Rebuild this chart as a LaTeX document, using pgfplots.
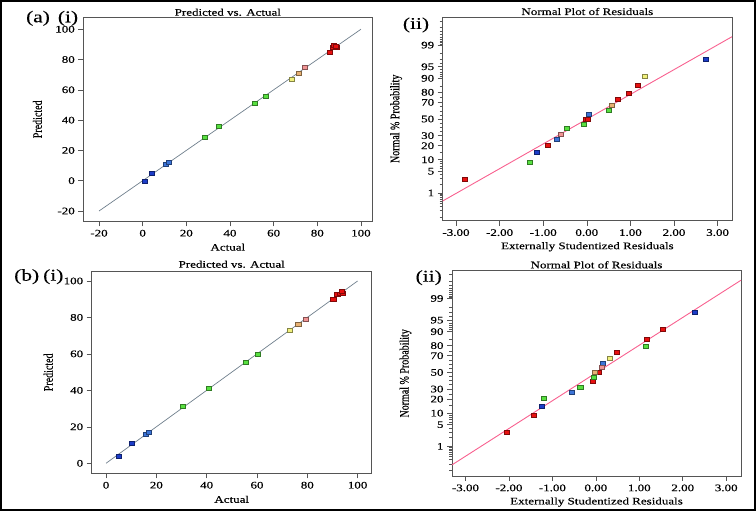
\documentclass[border=0pt]{standalone}
\usepackage{fontspec}
\setmainfont{Liberation Serif}[FakeStretch=1.3, FakeBold=0.3]
\newfontfamily\yfont{Liberation Serif}[FakeBold=0.3]
\usepackage{graphicx}
\usepackage{pgfplots}
\pgfplotsset{compat=1.18}

\definecolor{framec}{HTML}{555555}
\definecolor{diagc}{HTML}{6F7F8C}
\definecolor{fitc}{HTML}{F8608F}
\definecolor{cdblue}{HTML}{1C3CC8}
\definecolor{clblue}{HTML}{3C74D8}
\definecolor{cgreen}{HTML}{58E040}
\definecolor{cyellow}{HTML}{F0F07C}
\definecolor{corange}{HTML}{E8B274}
\definecolor{cpink}{HTML}{F09494}
\definecolor{cred}{HTML}{E81010}

\newcommand{\lblfont}{\fontsize{10bp}{11.5bp}\selectfont}

\pgfplotsset{
  panel/.style={
    scale only axis, anchor=south west,
    axis line style={draw=framec, line width=0.7bp},
    tick style={draw=framec, line width=0.6bp},
    tick align=outside, xtick pos=bottom, ytick pos=left,
    major tick length=5bp, minor tick length=3bp,
    tick label style={font=\lblfont, text=black},
    title style={font=\lblfont, at={(0.5,1)}, anchor=base, yshift=-6pt, inner sep=0pt},
    xlabel style={font=\lblfont, anchor=center},
    ylabel style={anchor=center},
    clip=false,
  },
  pt/.style={only marks, mark=square*, mark size=2.1bp,
    mark options={fill=#1, draw=#1!55!black, line width=0.45bp, xscale=1.2, yscale=0.95}},
  probit/.style={
    ytick={-2.3263,-1.6449,-1.2816,-0.8416,-0.5244,0,0.5244,0.8416,1.2816,1.6449,2.3263},
    yticklabels={1,5,10,20,30,50,70,80,90,95,99},
    minor ytick={-3.090,-2.878,-2.748,-2.652,-2.576,-2.512,-2.457,-2.409,-2.366,
      -2.054,-1.881,-1.751,-1.555,-1.476,-1.405,-1.341,-1.036,-0.674,-0.385,-0.253,-0.126,
      0.126,0.253,0.385,0.674,1.036,1.341,1.405,1.476,1.555,1.751,1.881,2.054,
      2.366,2.409,2.457,2.512,2.576,2.652,2.748,2.878,3.090},
    xtick={-3,-2,-1,0,1,2,3},
    xticklabels={-3.00,-2.00,-1.00,0.00,1.00,2.00,3.00},
    title={Normal Plot of Residuals},
    xlabel={Externally Studentized Residuals},
    ylabel={\yfont\lblfont\scalebox{1}[1.3]{Normal \% Probability}},
  },
}

\begin{document}
\begin{tikzpicture}
\useasboundingbox (0,0) rectangle (756bp,511bp);
\draw[line width=2bp] (1bp,1bp) rectangle (755bp,510bp);

% (a)(i)
\begin{axis}[panel, at={(83.3bp,289.7bp)}, width=289bp, height=204bp,
  xmin=-27.2, xmax=105.2, ymin=-26.8, ymax=107.9,
  xtick={-20,0,20,40,60,80,100}, xticklabels={-20,0,20,40,60,80,100},
  ytick={-20,0,20,40,60,80,100}, yticklabels={-20,0,20,40,60,80,100},
  title={Predicted vs. Actual}, title style={yshift=1.6bp}, xlabel={Actual},
  xlabel style={at={(axis description cs:0.5,-0.127)}},
  ylabel={\yfont\lblfont\scalebox{1}[1.3]{Predicted}},
  ylabel style={at={(axis description cs:-0.159,0.5)}}]
\addplot[diagc, line width=0.7bp] coordinates {(-20,-20) (100,100)};
\addplot[pt=cdblue] coordinates {(0.8,-0.5) (4.0,4.7)};
\addplot[pt=clblue] coordinates {(10.7,10.8) (11.9,12.2)};
\addplot[pt=cgreen] coordinates {(28.5,28.9) (34.8,35.7) (51.5,51.3) (56.3,56.0)};
\addplot[pt=cyellow] coordinates {(68.2,67.2)};
\addplot[pt=corange] coordinates {(71.6,71.2)};
\addplot[pt=cpink] coordinates {(74.4,74.9)};
\addplot[pt=cred] coordinates {(85.5,84.8) (87.0,87.9) (87.6,89.2) (88.9,87.9) (88.3,88.5)};
\end{axis}

% (a)(ii)
\begin{axis}[panel, probit, at={(442.7bp,290.3bp)}, width=289.3bp, height=203.7bp,
  xmin=-3.305, xmax=3.33, ymin=-3.20, ymax=3.21,
  title style={yshift=2bp},
  xlabel style={at={(axis description cs:0.5,-0.128)}},
  ylabel style={at={(axis description cs:-0.161,0.5)}}]
\addplot[fitc, line width=0.9bp] coordinates {(-3.305,-2.58) (3.33,2.59)};
\addplot[pt=cred] coordinates {(-2.80,-1.90) (-0.90,-0.83) (-0.03,0.0) (0.03,0.0) (0.72,0.62) (0.97,0.82) (1.17,1.05)};
\addplot[pt=cgreen] coordinates {(-1.30,-1.36) (-0.47,-0.30) (-0.06,-0.16) (0.50,0.29)};
\addplot[pt=cdblue] coordinates {(-1.14,-1.06) (2.73,1.89)};
\addplot[pt=clblue] coordinates {(-0.70,-0.63) (0.04,0.14)};
\addplot[pt=cpink] coordinates {(-0.59,-0.47)};
\addplot[pt=corange] coordinates {(0.58,0.44)};
\addplot[pt=cyellow] coordinates {(1.33,1.34)};
\end{axis}

% (b)(i)
\begin{axis}[panel, at={(91.7bp,37.7bp)}, width=280bp, height=202bp,
  xmin=-5.7, xmax=105.6, ymin=-5.5, ymax=105.3,
  xtick={0,20,40,60,80,100}, xticklabels={0,20,40,60,80,100},
  ytick={0,20,40,60,80,100}, yticklabels={0,20,40,60,80,100},
  title={Predicted vs. Actual}, xlabel={Actual},
  title style={yshift=3.6bp},
  xlabel style={at={(axis description cs:0.5,-0.129)}},
  ylabel={\yfont\lblfont\scalebox{1}[1.3]{Predicted}},
  ylabel style={at={(axis description cs:-0.155,0.5)}}]
\addplot[diagc, line width=0.7bp] coordinates {(0,0) (100,100)};
\addplot[pt=cdblue] coordinates {(5.0,4.0) (10.3,10.8)};
\addplot[pt=clblue] coordinates {(15.9,15.7) (17.1,17.2)};
\addplot[pt=cgreen] coordinates {(30.6,31.1) (40.9,41.1) (55.5,55.4) (60.3,59.8)};
\addplot[pt=cyellow] coordinates {(73.2,72.8)};
\addplot[pt=corange] coordinates {(76.4,76.4)};
\addplot[pt=cpink] coordinates {(79.5,79.2)};
\addplot[pt=cred] coordinates {(90.3,89.9) (91.9,92.9) (92.8,93.0) (94.0,93.2) (93.6,94.5)};
\end{axis}

% (b)(ii)
\begin{axis}[panel, probit, at={(452bp,35bp)}, width=289bp, height=205.3bp,
  xmin=-3.31, xmax=3.34, ymin=-3.26, ymax=3.20,
  title style={yshift=2.4bp},
  xlabel style={at={(axis description cs:0.5,-0.127)}},
  ylabel style={at={(axis description cs:-0.161,0.5)}}]
\addplot[fitc, line width=0.9bp] coordinates {(-3.31,-2.91) (3.34,2.90)};
\addplot[pt=cred] coordinates {(-2.05,-1.89) (-1.44,-1.35) (-0.07,-0.29) (0.02,0.0) (0.07,0.0) (0.49,0.63) (1.16,1.05) (1.54,1.35)};
\addplot[pt=cdblue] coordinates {(-1.25,-1.05) (2.28,1.90)};
\addplot[pt=cgreen] coordinates {(-1.21,-0.82) (-0.36,-0.46) (-0.06,-0.15) (1.14,0.82)};
\addplot[pt=clblue] coordinates {(-0.55,-0.63) (0.16,0.29)};
\addplot[pt=corange] coordinates {(-0.03,0.0)};
\addplot[pt=cpink] coordinates {(0.14,0.16)};
\addplot[pt=cyellow] coordinates {(0.31,0.46)};
\end{axis}

% panel labels
\node[font=\fontsize{16.5bp}{18bp}\selectfont, anchor=center] at (38bp,492.7bp) {(a)};
\node[font=\fontsize{16.5bp}{18bp}\selectfont, anchor=center] at (68bp,492.7bp) {(i)};
\node[font=\fontsize{16.5bp}{18bp}\selectfont, anchor=center] at (416bp,486bp) {(ii)};
\node[font=\fontsize{16.5bp}{18bp}\selectfont, anchor=center] at (26.7bp,234.3bp) {(b)};
\node[font=\fontsize{16.5bp}{18bp}\selectfont, anchor=center] at (53.3bp,234.3bp) {(i)};
\node[font=\fontsize{16.5bp}{18bp}\selectfont, anchor=center] at (428.7bp,233.3bp) {(ii)};
\end{tikzpicture}
\end{document}
